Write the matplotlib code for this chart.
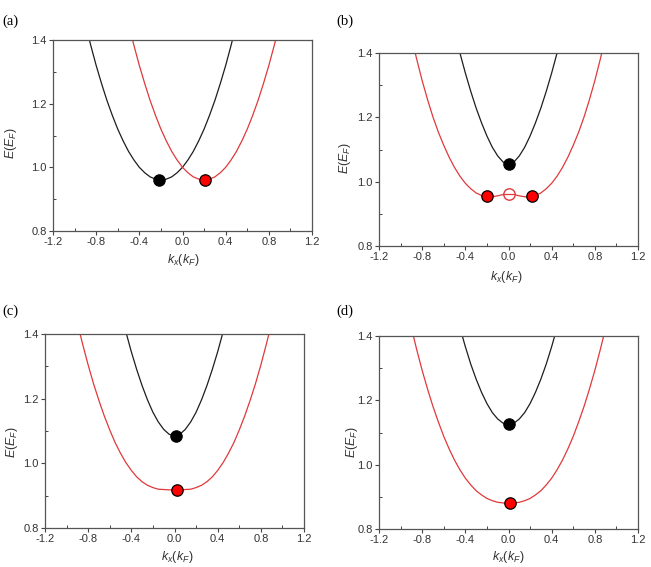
import matplotlib
matplotlib.use("Agg")
import matplotlib.pyplot as plt
from matplotlib.ticker import MultipleLocator

# ---------------- data ----------------
k = [-0.90, -0.85, -0.80, -0.75, -0.70, -0.65, -0.60, -0.55, -0.50, -0.45,
     -0.40, -0.35, -0.30, -0.25, -0.20, -0.15, -0.10, -0.05, 0.00, 0.05,
     0.10, 0.15, 0.20, 0.25, 0.30, 0.35, 0.40, 0.45, 0.50, 0.55,
     0.60, 0.65, 0.70, 0.75, 0.80, 0.85, 0.90]

a_black = [1.450, 1.383, 1.320, 1.263, 1.210, 1.163, 1.120, 1.083, 1.050, 1.023,
           1.000, 0.983, 0.970, 0.963, 0.960, 0.963, 0.970, 0.983, 1.000, 1.023,
           1.050, 1.083, 1.120, 1.163, 1.210, 1.263, 1.320, 1.383, 1.450, 1.523,
           1.600, 1.683, 1.770, 1.863, 1.960, 2.063, 2.170]
a_red = [2.170, 2.063, 1.960, 1.863, 1.770, 1.683, 1.600, 1.523, 1.450, 1.383,
         1.320, 1.263, 1.210, 1.163, 1.120, 1.083, 1.050, 1.023, 1.000, 0.983,
         0.970, 0.963, 0.960, 0.963, 0.970, 0.983, 1.000, 1.023, 1.050, 1.083,
         1.120, 1.163, 1.210, 1.263, 1.320, 1.383, 1.450]

b_black = [2.184, 2.077, 1.975, 1.878, 1.785, 1.698, 1.616, 1.539, 1.467, 1.400,
           1.338, 1.281, 1.229, 1.183, 1.142, 1.107, 1.080, 1.061, 1.054, 1.061,
           1.080, 1.107, 1.142, 1.183, 1.229, 1.281, 1.338, 1.400, 1.467, 1.539,
           1.616, 1.698, 1.785, 1.878, 1.975, 2.077, 2.184]
b_red = [1.450, 1.380, 1.314, 1.255, 1.201, 1.154, 1.113, 1.076, 1.044, 1.017,
         0.995, 0.978, 0.965, 0.957, 0.953, 0.953, 0.956, 0.960, 0.962, 0.960,
         0.956, 0.953, 0.953, 0.957, 0.965, 0.978, 0.995, 1.017, 1.044, 1.076,
         1.113, 1.154, 1.201, 1.255, 1.314, 1.380, 1.450]

c_black = [2.190, 2.080, 1.980, 1.880, 1.790, 1.702, 1.621, 1.544, 1.472, 1.406,
           1.345, 1.290, 1.240, 1.196, 1.158, 1.128, 1.105, 1.090, 1.085, 1.090,
           1.105, 1.128, 1.158, 1.196, 1.240, 1.290, 1.345, 1.406, 1.472, 1.544,
           1.621, 1.702, 1.790, 1.880, 1.980, 2.080, 2.190]
c_red = [1.434, 1.367, 1.304, 1.246, 1.194, 1.146, 1.103, 1.064, 1.031, 1.002,
         0.978, 0.958, 0.943, 0.932, 0.925, 0.920, 0.919, 0.918, 0.918, 0.918,
         0.919, 0.920, 0.925, 0.932, 0.943, 0.958, 0.978, 1.002, 1.031, 1.064,
         1.103, 1.146, 1.194, 1.246, 1.304, 1.367, 1.434]

d_black = [2.200, 2.093, 1.992, 1.895, 1.804, 1.718, 1.637, 1.561, 1.491, 1.426,
           1.367, 1.313, 1.266, 1.225, 1.190, 1.162, 1.142, 1.129, 1.125, 1.129,
           1.142, 1.162, 1.190, 1.225, 1.266, 1.313, 1.367, 1.426, 1.491, 1.561,
           1.637, 1.718, 1.804, 1.895, 1.992, 2.093, 2.200]
d_red = [1.425, 1.357, 1.293, 1.235, 1.181, 1.133, 1.088, 1.049, 1.014, 0.984,
         0.958, 0.937, 0.919, 0.906, 0.895, 0.888, 0.883, 0.881, 0.880, 0.881,
         0.883, 0.888, 0.895, 0.906, 0.919, 0.937, 0.958, 0.984, 1.014, 1.049,
         1.088, 1.133, 1.181, 1.235, 1.293, 1.357, 1.425]

# marked points: (k, E)
a_black_pts = ([-0.22], [0.960])
a_red_pts = ([0.21], [0.960])
b_black_pts = ([0.0], [1.054])
b_red_pts = ([-0.20, 0.22], [0.955, 0.955])
b_open_pts = ([0.0], [0.962])
c_black_pts = ([0.01], [1.085])
c_red_pts = ([0.02], [0.918])
d_black_pts = ([0.0], [1.125])
d_red_pts = ([0.01], [0.880])

panel_labels = ["(a)", "(b)", "(c)", "(d)"]
x_ticks = [-1.2, -0.8, -0.4, 0.0, 0.4, 0.8, 1.2]
y_ticks = [0.8, 1.0, 1.2, 1.4]

# ---------------- style ----------------
plt.rcParams['font.family'] = ['Liberation Sans', 'DejaVu Sans']
plt.rcParams['mathtext.fontset'] = 'custom'
plt.rcParams['mathtext.it'] = 'Liberation Sans:italic'
plt.rcParams['mathtext.rm'] = 'Liberation Sans'

W, H = 651, 567
fig = plt.figure(figsize=(W / 100, H / 100), dpi=100)
fig.patch.set_facecolor('white')

BLACK = '#1e1e1e'
RED = '#e0393b'
TXT = '#333333'

# axes boxes in pixels: left, top, right, bottom
boxes = [(53, 40, 312, 231), (379, 53, 638, 246), (45, 334, 304, 528), (379, 336, 638, 529)]
label_pos = [(10, 21), (345, 21), (10, 311), (345, 311)]
ylabel_pos = [(11, 143), (345, 158), (12, 442), (352, 442)]
xlabel_pos = [(183, 260), (506, 277), (177, 557), (508, 557)]

curves = [(a_black, a_red), (b_black, b_red), (c_black, c_red), (d_black, d_red)]
black_pts = [a_black_pts, b_black_pts, c_black_pts, d_black_pts]
red_pts = [a_red_pts, b_red_pts, c_red_pts, d_red_pts]

for i, (l, t, r, b) in enumerate(boxes):
    ax = fig.add_axes([l / W, 1 - b / H, (r - l) / W, (b - t) / H])
    blk, red = curves[i]
    ax.plot(k, blk, color=BLACK, lw=0.9, zorder=2)
    ax.plot(k, red, color=RED, lw=0.9, zorder=2)
    ax.plot(*black_pts[i], 'o', ms=8.2, mfc='black', mec='black', mew=0.8, zorder=4)
    ax.plot(*red_pts[i], 'o', ms=8.2, mfc='#ff0000', mec='black', mew=0.9, zorder=4)
    if i == 1:
        ax.plot(*b_open_pts, 'o', ms=8.2, mfc='white', mec=RED, mew=1.0, zorder=3)
        ax.plot([-0.05, 0.05], [0.962, 0.962], color=RED, lw=0.9, zorder=5)
    ax.set_xlim(-1.2, 1.2)
    ax.set_ylim(0.8, 1.4)
    ax.set_xticks(x_ticks)
    ax.set_xticklabels([f"{v:.1f}" for v in x_ticks])
    ax.set_yticks(y_ticks)
    ax.set_yticklabels([f"{v:.1f}" for v in y_ticks])
    ax.xaxis.set_minor_locator(MultipleLocator(0.2))
    ax.yaxis.set_minor_locator(MultipleLocator(0.1))
    ax.tick_params(which='major', direction='out', length=3, width=0.8,
                   color='#444444', labelsize=8, labelcolor=TXT, pad=1.5)
    ax.tick_params(which='minor', direction='in', length=2, width=0.7, color='#444444')
    for s in ax.spines.values():
        s.set_color('#555555')
        s.set_linewidth(0.9)
    lx, ly = label_pos[i]
    fig.text(lx / W, 1 - ly / H, panel_labels[i], family='Liberation Serif',
             fontsize=10.5, ha='center', va='center', color='black')
    yx, yy = ylabel_pos[i]
    fig.text(yx / W, 1 - yy / H, r'$E(E_F)$', rotation=90, fontsize=9,
             ha='center', va='center', color=TXT)
    xx, xy = xlabel_pos[i]
    fig.text(xx / W, 1 - xy / H, r'$k_x(k_F)$', fontsize=9,
             ha='center', va='center', color=TXT)

fig.savefig('out.png', dpi=100, facecolor='white')
